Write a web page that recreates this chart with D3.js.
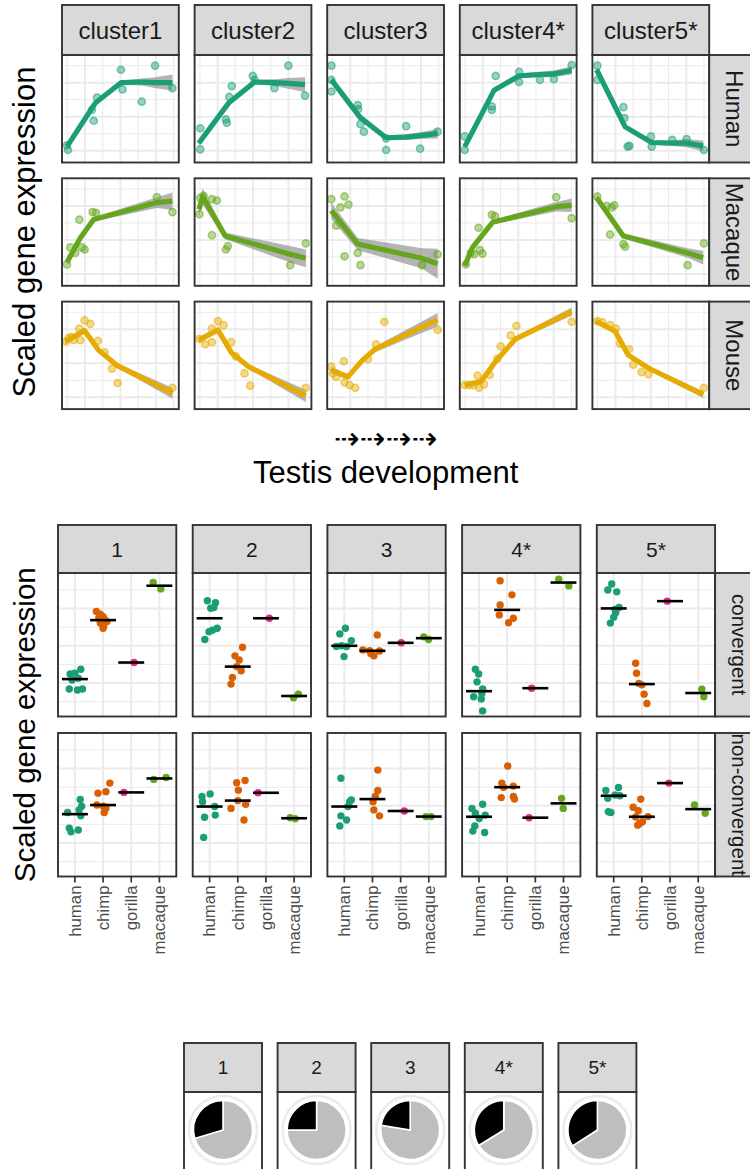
<!DOCTYPE html>
<html>
<head>
<meta charset="utf-8">
<script src="https://cdn.jsdelivr.net/npm/d3@7"></script>
<style>
  body { margin: 0; background: #fff; }
  svg { display: block; }
  text { font-family: "Liberation Sans", Arial, Helvetica, sans-serif; }
</style>
</head>
<body>
<svg id="fig" width="750" height="1169"></svg>
<script>
// ---------------- data ----------------
const clusters = ["cluster1", "cluster2", "cluster3", "cluster4*", "cluster5*"];
const organisms = ["Human", "Macaque", "Mouse"];
const organismColors = ["#1B9E77", "#66A61E", "#E6AB02"];

// samples per cluster: [developmental stage, scaled expression]
const humanSamples = [
  [[-0.02,-0.42],[0.04,-0.49],[1.39,0.10],[1.49,-0.06],[1.68,0.28],[3.03,0.69],[3.12,0.40],[4.21,0.22],[4.96,0.75],[5.94,0.42]],
  [[0.02,-0.17],[0.02,-0.48],[1.47,-0.04],[1.52,-0.09],[1.66,0.29],[1.80,0.45],[2.99,0.60],[3.09,0.54],[4.21,0.42],[5.00,0.75],[5.94,0.31]],
  [[-0.06,0.75],[-0.06,0.54],[-0.06,0.37],[1.43,0.17],[1.45,0.11],[1.58,-0.11],[1.77,-0.22],[3.03,-0.32],[3.03,-0.49],[4.16,-0.14],[4.95,-0.47],[5.94,-0.22]],
  [[-0.02,-0.29],[-0.02,-0.49],[1.51,0.15],[1.51,0.10],[1.73,0.60],[3.05,0.66],[3.05,0.51],[4.23,0.54],[5.02,0.55],[6.02,0.76]],
  [[-0.02,0.75],[-0.02,0.54],[1.45,0.14],[1.51,-0.02],[1.69,-0.44],[1.79,-0.43],[3.01,-0.29],[3.05,-0.44],[4.21,-0.34],[5.02,-0.33],[6.00,-0.49]]
];
const macaqueSamples = [
  [[-0.02,-0.36],[0.17,-0.11],[0.45,-0.19],[0.68,0.30],[0.83,-0.11],[0.98,-0.14],[1.43,0.41],[1.62,0.40],[5.06,0.63],[5.94,0.41]],
  [[0.02,0.62],[-0.03,0.38],[0.21,0.65],[0.68,0.60],[0.96,0.58],[0.68,0.07],[1.47,-0.14],[1.58,-0.09],[5.10,-0.37],[5.98,-0.05]],
  [[-0.07,0.60],[0.45,0.48],[0.68,0.64],[0.90,0.52],[0.21,0.21],[0.68,-0.24],[1.43,-0.19],[1.58,-0.37],[5.06,-0.37],[5.94,-0.21]],
  [[0.04,-0.36],[0.32,-0.19],[0.51,-0.21],[0.83,-0.15],[0.98,-0.20],[0.76,0.18],[1.51,0.37],[1.69,0.35],[5.15,0.63],[6.02,0.32]],
  [[-0.02,0.64],[0.51,0.50],[0.79,0.48],[0.94,0.51],[0.70,0.08],[1.45,-0.06],[1.55,-0.10],[5.08,-0.37],[6.00,-0.05]]
];
const mouseSamples = [
  [[-0.07,0.32],[0.08,0.37],[0.23,0.39],[0.36,0.34],[0.68,0.51],[0.73,0.34],[0.98,0.63],[1.30,0.58],[1.73,0.33],[2.11,0.16],[2.52,-0.08],[2.84,-0.29],[5.94,-0.36]],
  [[-0.03,0.36],[0.30,0.28],[0.68,0.31],[0.68,0.51],[1.02,0.62],[1.34,0.56],[1.77,0.31],[2.03,0.10],[2.52,-0.15],[2.84,-0.33],[5.98,-0.36]],
  [[-0.07,-0.05],[0.02,-0.15],[0.21,-0.20],[0.64,0.03],[0.68,-0.28],[0.96,-0.32],[1.28,-0.36],[2.00,0.06],[2.46,0.28],[2.93,0.61],[5.94,0.49]],
  [[-0.02,-0.32],[0.23,-0.32],[0.45,-0.32],[0.70,-0.18],[0.79,-0.36],[1.07,-0.31],[1.39,-0.17],[1.83,0.07],[2.01,0.25],[2.58,0.41],[2.90,0.55],[6.02,0.61]],
  [[-0.02,0.62],[0.27,0.60],[0.70,0.56],[1.02,0.51],[1.26,0.29],[1.77,0.21],[2.01,-0.02],[2.48,-0.13],[2.86,-0.16],[6.00,-0.36]]
];

// smoothed trend per cluster: [stage, fitted value, standard error]
const humanTrend = [
  [[-0.02,-0.44,0.04],[1.58,0.20,0.03],[3.03,0.50,0.03],[4.21,0.51,0.05],[4.95,0.50,0.08],[5.94,0.50,0.12]],
  [[-0.07,-0.39,0.04],[1.62,0.20,0.03],[3.09,0.51,0.03],[4.21,0.50,0.05],[5.00,0.49,0.08],[5.94,0.47,0.11]],
  [[-0.06,0.54,0.04],[1.56,-0.01,0.03],[3.03,-0.31,0.03],[4.16,-0.30,0.04],[4.95,-0.28,0.05],[5.94,-0.25,0.07]],
  [[-0.02,-0.44,0.04],[1.64,0.39,0.03],[3.05,0.60,0.03],[4.21,0.62,0.04],[5.00,0.63,0.05],[6.02,0.68,0.06]],
  [[-0.06,0.69,0.04],[1.55,-0.15,0.03],[3.05,-0.38,0.03],[4.21,-0.39,0.04],[5.00,-0.39,0.06],[5.96,-0.43,0.08]]
];
const macaqueTrend = [
  [[-0.02,-0.33,0.04],[0.73,0.03,0.03],[1.49,0.30,0.03],[5.06,0.55,0.08],[5.94,0.57,0.13]],
  [[-0.05,0.45,0.10],[0.15,0.64,0.12],[1.43,0.06,0.05],[5.10,-0.21,0.12],[5.98,-0.27,0.13]],
  [[-0.07,0.43,0.12],[1.43,-0.06,0.09],[5.06,-0.27,0.15],[5.94,-0.35,0.22]],
  [[-0.02,-0.38,0.04],[0.42,-0.11,0.03],[1.55,0.26,0.03],[5.15,0.49,0.07],[6.02,0.51,0.10]],
  [[-0.06,0.62,0.06],[1.45,0.06,0.04],[5.08,-0.19,0.07],[5.96,-0.26,0.10]]
];
const mouseTrend = [
  [[-0.11,0.32,0.04],[0.98,0.48,0.04],[1.77,0.19,0.03],[2.80,-0.03,0.03],[5.94,-0.44,0.08]],
  [[-0.07,0.34,0.04],[1.02,0.49,0.04],[1.80,0.15,0.03],[2.75,-0.05,0.03],[5.98,-0.48,0.09]],
  [[-0.07,-0.10,0.05],[0.87,-0.20,0.04],[1.71,0.05,0.04],[2.37,0.20,0.04],[2.93,0.27,0.05],[5.94,0.64,0.10]],
  [[-0.02,-0.32,0.03],[0.89,-0.27,0.03],[1.73,0.03,0.03],[2.86,0.36,0.03],[6.02,0.76,0.06]],
  [[-0.11,0.62,0.03],[0.98,0.47,0.03],[1.73,0.12,0.03],[2.86,-0.07,0.03],[5.96,-0.46,0.05]]
];

const stageMajor = [1, 3, 5];
const stageMinor = [0, 2, 4, 6];
const exprMajor = [-0.5, 0, 0.5];
const exprMinor = [-0.25, 0.25, 0.75];

// species comparison per cluster group
const groups = ["1", "2", "3", "4*", "5*"];
const convergenceClasses = ["convergent", "non-convergent"];
const species = ["human", "chimp", "gorilla", "macaque"];
const speciesColors = ["#1B9E77", "#D95F02", "#E7298A", "#66A61E"];

// [species index + jitter, scaled expression]
const convergentPoints = [
  [[-0.17,-0.76],[0,-0.74],[0.21,-0.63],[0.12,-0.87],[-0.20,-1.16],[0.09,-1.19],[0.27,-1.16],[-0.10,-0.92],
   [0.76,0.92],[0.90,0.85],[1,0.78],[1.08,0.69],[1.14,0.65],[0.85,0.74],[1.02,0.53],[1,0.47],[0.90,0.61],
   [2.10,-0.45],
   [2.78,1.70],[3.05,1.53]],
  [[-0.08,1.21],[0.21,1.16],[0.04,1.01],[0.15,1.03],[0.27,0.47],[0.10,0.42],[-0.02,0.38],[-0.17,0.17],
   [1.17,-0.04],[0.90,-0.27],[1.05,-0.38],[0.96,-0.56],[1.12,-0.67],[0.81,-0.85],[0.76,-1.03],
   [2.12,0.74],
   [2.98,-1.40],[3.15,-1.30]],
  [[0.04,0.47],[-0.16,0.32],[0.25,0.14],[-0.28,-0.02],[0.08,-0.02],[-0.10,0.00],[-0.01,-0.29],
   [1.17,0.29],[0.66,-0.11],[0.90,-0.13],[1.05,-0.27],[1.25,-0.14],[0.94,-0.21],
   [2.02,0.08],
   [2.82,0.24],[2.99,0.17]],
  [[-0.13,-0.63],[-0.01,-0.76],[-0.07,-0.97],[0.13,-1.16],[-0.19,-1.37],[0.08,-1.43],[0.13,-1.75],[0.10,-1.28],
   [0.75,1.75],[1.17,1.37],[0.75,1.10],[0.72,0.83],[1.22,0.74],[1.05,0.62],
   [1.87,-1.14],
   [2.83,1.79],[3.19,1.61]],
  [[-0.07,1.66],[-0.21,1.50],[0.11,1.45],[0.19,1.03],[0.07,0.89],[0,0.77],[-0.12,0.61],[0.05,0.98],
   [0.78,-0.47],[0.81,-0.74],[0.89,-1.01],[1.08,-1.30],[1.18,-1.55],[1.00,-1.05],
   [1.90,1.20],
   [3.13,-1.17],[3.20,-1.37]]
];
const nonConvergentPoints = [
  [[-0.26,-0.18],[0.19,0.17],[0.24,-0.01],[0.15,-0.11],[0.21,-0.27],[-0.20,-0.60],[-0.14,-0.70],[0.12,-0.65],
   [0.82,0.34],[1.10,0.38],[1.24,0.61],[0.78,0.02],[1.01,-0.01],[1.10,-0.07],[1.04,-0.18],
   [1.74,0.36],
   [2.80,0.71],[3.24,0.76]],
  [[-0.27,0.25],[0.02,0.32],[-0.25,0.11],[-0.18,-0.31],[0.20,-0.25],[-0.21,-0.85],[0.18,-0.02],
   [0.96,0.62],[1.26,0.68],[1.02,0.42],[0.76,-0.07],[1,0.14],[1.28,0.04],[1.22,-0.38],
   [1.72,0.35],
   [2.86,-0.32],[3.04,-0.35]],
  [[-0.12,0.74],[0.19,0.11],[0.13,-0.02],[-0.12,-0.27],[0.08,-0.38],[-0.16,-0.54],[0.25,0.16],
   [1.19,0.96],[1.19,0.41],[1.10,0.25],[1.02,0.11],[1.05,-0.11],[1.25,-0.27],
   [2.13,-0.14],
   [2.90,-0.29],[3.08,-0.29]],
  [[-0.25,-0.07],[0.13,0.04],[-0.13,-0.20],[0.22,-0.25],[0.01,-0.34],[-0.15,-0.54],[-0.22,-0.68],[0.20,-0.72],
   [1.02,1.07],[0.81,0.61],[1.22,0.53],[0.79,0.22],[1.22,0.25],[1.26,0.18],[0.87,0.50],
   [1.78,-0.32],
   [2.93,0.20],[2.99,-0.07]],
  [[-0.28,0.41],[0.17,0.49],[-0.21,0.20],[0.05,0.29],[0.22,0.27],[-0.19,-0.16],[-0.10,-0.18],
   [0.96,0.18],[0.69,-0.04],[0.87,-0.13],[1.22,-0.29],[0.78,-0.30],[0.93,-0.47],[0.85,-0.52],[1.02,-0.43],
   [1.96,0.61],
   [2.87,0.02],[3.25,-0.20]]
];
const speciesMajor = [-1, 0, 1];
const speciesMinor = [-1.5, -0.5, 0.5, 1.5];

// share of convergent genes per cluster group
const convergentShare = [0.296, 0.25, 0.224, 0.338, 0.34];

// ---------------- drawing ----------------
const svg = d3.select("#fig");
const GRID = "#EBEBEB", BORDER = "#333333", STRIP = "#D9D9D9", STRIP_TEXT = "#1A1A1A";
let clipCount = 0;

function addClip(w, h) {
  const id = "clip" + (clipCount++);
  svg.append("clipPath").attr("id", id).append("rect").attr("width", w).attr("height", h);
  return id;
}

function drawGrid(g, x, y, w, h, xMajor, xMinor, yMajor, yMinor) {
  const gg = g.append("g");
  const vline = (v, sw) => gg.append("line").attr("x1", x(v)).attr("x2", x(v)).attr("y1", 0).attr("y2", h)
    .attr("stroke", GRID).attr("stroke-width", sw);
  const hline = (v, sw) => gg.append("line").attr("y1", y(v)).attr("y2", y(v)).attr("x1", 0).attr("x2", w)
    .attr("stroke", GRID).attr("stroke-width", sw);
  xMinor.forEach(v => vline(v, 1));
  yMinor.forEach(v => hline(v, 1));
  xMajor.forEach(v => vline(v, 2));
  yMajor.forEach(v => hline(v, 2));
}

function frame(g, w, h) {
  g.append("rect").attr("width", w).attr("height", h)
    .attr("fill", "none").attr("stroke", BORDER).attr("stroke-width", 1.9);
}

function stripTop(x, y, w, h, label, size) {
  svg.append("rect").attr("x", x).attr("y", y).attr("width", w).attr("height", h)
    .attr("fill", STRIP).attr("stroke", BORDER).attr("stroke-width", 1.9);
  svg.append("text").attr("x", x + w / 2).attr("y", y + h / 2).attr("dy", "0.36em")
    .attr("text-anchor", "middle").attr("font-size", size).attr("fill", STRIP_TEXT).text(label);
}

function stripRight(x, y, w, h, label, size) {
  svg.append("rect").attr("x", x).attr("y", y).attr("width", w).attr("height", h)
    .attr("fill", STRIP).attr("stroke", BORDER).attr("stroke-width", 1.9);
  const id = addClip(w, h);
  const g = svg.append("g").attr("transform", `translate(${x},${y})`).attr("clip-path", `url(#${id})`);
  g.append("text").attr("transform", `translate(${w / 2},${h / 2}) rotate(90)`).attr("dy", "0.36em")
    .attr("text-anchor", "middle").attr("font-size", size).attr("fill", STRIP_TEXT).text(label);
}

// ---- block 1: expression along testis development ----
const T = { left: 62, colStep: 132.6, w: 116.8, top: 55, rowStep: 123.3, h: 107.5, stripH: 50, stripW: 50 };
const stageX = d3.scaleLinear().domain([-0.3, 6.3]).range([0, T.w]);
const exprY = d3.scaleLinear().domain([-0.674, 0.907]).range([T.h, 0]);
const samplesByOrganism = [humanSamples, macaqueSamples, mouseSamples];
const trendByOrganism = [humanTrend, macaqueTrend, mouseTrend];

const band = d3.area().x(d => stageX(d[0])).y0(d => exprY(d[1] - d[2])).y1(d => exprY(d[1] + d[2]));
const trendLine = d3.line().x(d => stageX(d[0])).y(d => exprY(d[1]));

organisms.forEach((org, i) => {
  clusters.forEach((cl, j) => {
    const px = T.left + j * T.colStep, py = T.top + i * T.rowStep;
    const g = svg.append("g").attr("transform", `translate(${px},${py})`);
    g.append("rect").attr("width", T.w).attr("height", T.h).attr("fill", "#fff");
    drawGrid(g, stageX, exprY, T.w, T.h, stageMajor, stageMinor, exprMajor, exprMinor);
    const id = addClip(T.w, T.h);
    const inner = g.append("g").attr("clip-path", `url(#${id})`);
    const color = organismColors[i];
    inner.append("path").datum(trendByOrganism[i][j]).attr("d", band)
      .attr("fill", "#8C8C8C").attr("fill-opacity", 0.65);
    inner.append("path").datum(trendByOrganism[i][j]).attr("d", trendLine)
      .attr("fill", "none").attr("stroke", color).attr("stroke-width", 5.2)
      .attr("stroke-linejoin", "round");
    inner.selectAll("circle.s").data(samplesByOrganism[i][j]).join("circle")
      .attr("cx", d => stageX(d[0])).attr("cy", d => exprY(d[1])).attr("r", 3.6)
      .attr("fill", color).attr("fill-opacity", 0.45)
      .attr("stroke", color).attr("stroke-opacity", 0.55).attr("stroke-width", 1.5);
    frame(g, T.w, T.h);
    if (i === 0) stripTop(px, T.top - T.stripH, T.w, T.stripH, cl, 24);
  });
  stripRight(T.left + 4 * T.colStep + T.w, T.top + i * T.rowStep, T.stripW, T.h, org, 24);
});

svg.append("text").attr("transform", `translate(35,${T.top + T.rowStep + T.h / 2}) rotate(-90)`)
  .attr("text-anchor", "middle").attr("font-size", 31).attr("fill", "#000").text("Scaled gene expression");
const topMid = T.left + (4 * T.colStep + T.w) / 2;
svg.append("text").attr("x", topMid).attr("y", 448.5).attr("text-anchor", "middle")
  .attr("font-size", 31).style("font-family", '"DejaVu Sans", sans-serif').attr("fill", "#000").text("⇢⇢⇢⇢");
svg.append("text").attr("x", topMid).attr("y", 482.5).attr("text-anchor", "middle")
  .attr("font-size", 31).attr("fill", "#000").text("Testis development");

// ---- block 2: species comparison ----
const M = { left: 58, colStep: 134.7, w: 118.3, tops: [573, 733], h: 143.5, stripTop: 525, stripH: 48, stripW: 48 };
const spX = d3.scaleLinear().domain([-0.6, 3.6]).range([0, M.w]);
const spY = d3.scaleLinear().domain([-1.901, 1.957]).range([M.h, 0]);
const pointSets = [convergentPoints, nonConvergentPoints];
const speciesOf = v => Math.round(v);

convergenceClasses.forEach((cls, i) => {
  groups.forEach((grp, j) => {
    const px = M.left + j * M.colStep, py = M.tops[i];
    const g = svg.append("g").attr("transform", `translate(${px},${py})`);
    g.append("rect").attr("width", M.w).attr("height", M.h).attr("fill", "#fff");
    drawGrid(g, spX, spY, M.w, M.h, d3.range(species.length), [], speciesMajor, speciesMinor);
    const pts = pointSets[i][j];
    g.selectAll("circle.p").data(pts).join("circle")
      .attr("cx", d => spX(d[0])).attr("cy", d => spY(d[1])).attr("r", 3.7)
      .attr("fill", d => speciesColors[speciesOf(d[0])]);
    species.forEach((sp, k) => {
      const med = d3.median(pts.filter(d => speciesOf(d[0]) === k), d => d[1]);
      g.append("line").attr("x1", spX(k - 0.46)).attr("x2", spX(k + 0.46))
        .attr("y1", spY(med)).attr("y2", spY(med))
        .attr("stroke", "#000").attr("stroke-width", 2.6);
    });
    frame(g, M.w, M.h);
    if (i === 0) stripTop(px, M.stripTop, M.w, M.stripH, grp, 21);
    if (i === 1) {
      const axis = svg.append("g").attr("transform", `translate(${px},${py + M.h})`);
      species.forEach((sp, k) => {
        axis.append("line").attr("x1", spX(k)).attr("x2", spX(k)).attr("y1", 0).attr("y2", 6)
          .attr("stroke", BORDER).attr("stroke-width", 1.7);
        axis.append("text").attr("transform", `translate(${spX(k)},9) rotate(-90)`).attr("dy", "0.35em")
          .attr("text-anchor", "end").attr("font-size", 16.8).attr("fill", "#4D4D4D").text(sp);
      });
    }
  });
  stripRight(M.left + 4 * M.colStep + M.w, M.tops[i], M.stripW, M.h, cls, 20.5);
});

svg.append("text").attr("transform", `translate(35,${(M.tops[0] + M.tops[1] + M.h) / 2}) rotate(-90)`)
  .attr("text-anchor", "middle").attr("font-size", 29.5).attr("fill", "#000").text("Scaled gene expression");

// ---- block 3: convergent share pies ----
const P = { left: 184, colStep: 93.6, w: 78, stripTop: 1043, stripH: 49, top: 1092, h: 100, r: 29.5, ring: 34, cy: 38 };
const pie = d3.pie().sort(null).value(d => d.value);
const arc = d3.arc().innerRadius(0).outerRadius(P.r);

groups.forEach((grp, j) => {
  const px = P.left + j * P.colStep;
  const g = svg.append("g").attr("transform", `translate(${px},${P.top})`);
  g.append("rect").attr("width", P.w).attr("height", P.h).attr("fill", "#fff");
  const c = g.append("g").attr("transform", `translate(${P.w / 2},${P.cy})`);
  c.append("circle").attr("r", P.ring).attr("fill", "none").attr("stroke", GRID).attr("stroke-width", 2.4);
  const slices = [{ key: "other", value: 1 - convergentShare[j] }, { key: "convergent", value: convergentShare[j] }];
  c.selectAll("path").data(pie(slices)).join("path").attr("d", arc)
    .attr("fill", d => d.data.key === "convergent" ? "#000" : "#BEBEBE")
    .attr("stroke", "#fff").attr("stroke-width", 1.6);
  frame(g, P.w, P.h);
  stripTop(px, P.stripTop, P.w, P.stripH, grp, 19);
});
</script>
</body>
</html>
